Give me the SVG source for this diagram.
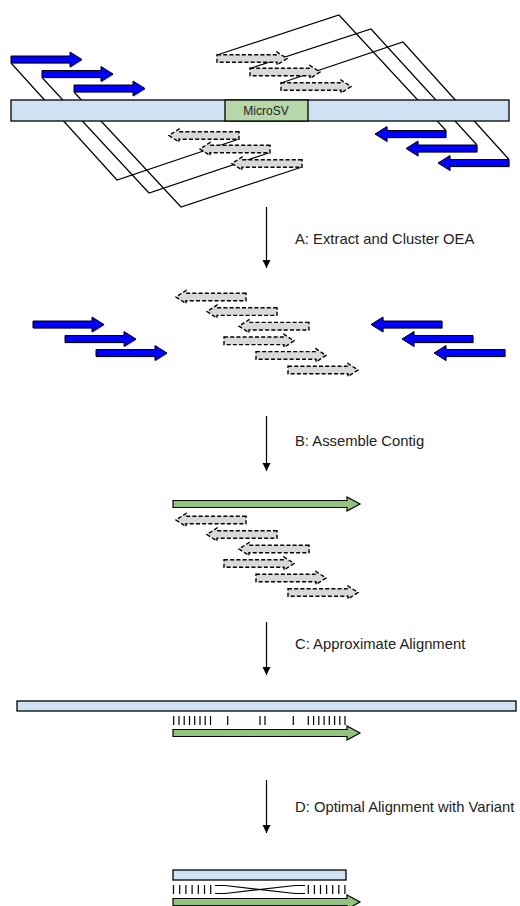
<svg xmlns="http://www.w3.org/2000/svg" xmlns:xlink="http://www.w3.org/1999/xlink" width="520" height="906" viewBox="0 0 520 906">
<style>
.bar{fill:#cfe2f3;stroke:#000;stroke-width:1.3}
.sv{fill:#b6d7a8;stroke:#000;stroke-width:1.3}
.blue{fill:#0000ff;stroke:#000;stroke-width:1}
.shadow{fill:#999;stroke:none;opacity:0.6}
.gray{fill:#d9d9d9;stroke:#000;stroke-width:1.4;stroke-dasharray:4 2.2}
.green{fill:#93c47d;stroke:#000;stroke-width:1.2}
.link{fill:none;stroke:#000;stroke-width:1.2}
.flow{fill:none;stroke:#000;stroke-width:1.2}
.tick{stroke:#000;stroke-width:1.2}
.lbl{font-family:"Liberation Sans",Arial,sans-serif;font-size:14.8px;fill:#222}
.svt{font-family:"Liberation Sans",Arial,sans-serif;font-size:12px;fill:#222}
</style>
<defs>
<path id="bR" d="M0,-3.5 H59 V-7.5 L71,0 L59,7.5 V3.5 H0 Z"/>
<path id="bL" d="M0,-3.5 H-59 V-7.5 L-71,0 L-59,7.5 V3.5 H0 Z"/>
<path id="gR" d="M0,-3.8 H60 V-6.5 L70,0 L60,6.5 V3.8 H0 Z"/>
<path id="gL" d="M0,-3.8 H-60 V-6.5 L-70,0 L-60,6.5 V3.8 H0 Z"/>
<path id="grn" d="M0,-3.5 H174 V-7 L187,0 L174,7 V3.5 H0 Z"/>
<marker id="ah" viewBox="0 0 8 10" refX="8" refY="5" markerWidth="8" markerHeight="10" markerUnits="userSpaceOnUse" orient="auto">
<path d="M0,1 L8,5 L0,9 Z" fill="#000"/>
</marker>
</defs>

<!-- connectors: read-pair links and step arrows -->
<g id="connectors">
<polyline class="link" points="11,63 117,180 239,139"/>
<polyline class="link" points="42,77.5 149,193 270,152.5"/>
<polyline class="link" points="74,92 181,207 302,167"/>
<polyline class="link" points="217,55 339,15 446,130.5"/>
<polyline class="link" points="250,68.5 371,29 477,145"/>
<polyline class="link" points="281,83 403,42 509,159.5"/>
<line class="flow" x1="266.5" y1="207" x2="266.5" y2="268" marker-end="url(#ah)"/>
<line class="flow" x1="266.5" y1="416" x2="266.5" y2="471" marker-end="url(#ah)"/>
<line class="flow" x1="266.5" y1="622" x2="266.5" y2="675" marker-end="url(#ah)"/>
<line class="flow" x1="266.5" y1="780" x2="266.5" y2="833" marker-end="url(#ah)"/>
</g>

<!-- Top: reference with MicroSV and OEA reads -->
<g id="reference-top">
<rect class="bar" x="11" y="100" width="498" height="21"/>
<rect class="sv" x="225" y="100" width="83" height="21"/>
<text class="svt" x="266" y="115" text-anchor="middle">MicroSV</text>
</g>
<g id="reads-top">
<use href="#bR" class="shadow" transform="translate(12,60.5)"/>
<use href="#bR" class="blue" transform="translate(11,59.5)"/>
<use href="#bR" class="shadow" transform="translate(43,75)"/>
<use href="#bR" class="blue" transform="translate(42,74)"/>
<use href="#bR" class="shadow" transform="translate(75,89.5)"/>
<use href="#bR" class="blue" transform="translate(74,88.5)"/>
<use href="#bL" class="shadow" transform="translate(447,135)"/>
<use href="#bL" class="blue" transform="translate(446,134)"/>
<use href="#bL" class="shadow" transform="translate(478,149.5)"/>
<use href="#bL" class="blue" transform="translate(477,148.5)"/>
<use href="#bL" class="shadow" transform="translate(510,164)"/>
<use href="#bL" class="blue" transform="translate(509,163)"/>
<use href="#gR" class="gray" transform="translate(217,58.5)"/>
<use href="#gR" class="gray" transform="translate(250,72)"/>
<use href="#gR" class="gray" transform="translate(281,86.5)"/>
<use href="#gL" class="gray" transform="translate(239,135.5)"/>
<use href="#gL" class="gray" transform="translate(270,149)"/>
<use href="#gL" class="gray" transform="translate(302,163.5)"/>
</g>

<g id="label-a"><text class="lbl" x="295" y="244">A: Extract and Cluster OEA</text></g>

<!-- Step A result -->
<g id="cluster">
<use href="#bR" class="shadow" transform="translate(34,325.5)"/>
<use href="#bR" class="blue" transform="translate(33,324.5)"/>
<use href="#bR" class="shadow" transform="translate(66,340)"/>
<use href="#bR" class="blue" transform="translate(65,339)"/>
<use href="#bR" class="shadow" transform="translate(97,354)"/>
<use href="#bR" class="blue" transform="translate(96,353)"/>
<use href="#bL" class="shadow" transform="translate(443,325.5)"/>
<use href="#bL" class="blue" transform="translate(442,324.5)"/>
<use href="#bL" class="shadow" transform="translate(474,340)"/>
<use href="#bL" class="blue" transform="translate(473,339)"/>
<use href="#bL" class="shadow" transform="translate(506,354)"/>
<use href="#bL" class="blue" transform="translate(505,353)"/>
<use href="#gL" class="gray" transform="translate(246,297)"/>
<use href="#gL" class="gray" transform="translate(277,311.6)"/>
<use href="#gL" class="gray" transform="translate(309,326.2)"/>
<use href="#gR" class="gray" transform="translate(224,340.8)"/>
<use href="#gR" class="gray" transform="translate(256,355.4)"/>
<use href="#gR" class="gray" transform="translate(288,370)"/>
</g>

<g id="label-b"><text class="lbl" x="295" y="446">B: Assemble Contig</text></g>

<!-- Step B result -->
<g id="contig">
<use href="#grn" class="green" transform="translate(173,504)"/>
<use href="#gL" class="gray" transform="translate(246,520)"/>
<use href="#gL" class="gray" transform="translate(277,534.5)"/>
<use href="#gL" class="gray" transform="translate(309,549)"/>
<use href="#gR" class="gray" transform="translate(224,563.5)"/>
<use href="#gR" class="gray" transform="translate(256,578)"/>
<use href="#gR" class="gray" transform="translate(288,592.5)"/>
</g>

<g id="label-c"><text class="lbl" x="295" y="649">C: Approximate Alignment</text></g>

<!-- Step C result -->
<g id="approx">
<rect class="bar" x="17" y="701" width="499" height="10"/>
<g class="tick">
<line x1="173.7" y1="716" x2="173.7" y2="725"/>
<line x1="179" y1="716" x2="179" y2="725"/>
<line x1="184.2" y1="716" x2="184.2" y2="725"/>
<line x1="189.5" y1="716" x2="189.5" y2="725"/>
<line x1="194.7" y1="716" x2="194.7" y2="725"/>
<line x1="200" y1="716" x2="200" y2="725"/>
<line x1="205.2" y1="716" x2="205.2" y2="725"/>
<line x1="210.5" y1="716" x2="210.5" y2="725"/>
<line x1="227.7" y1="716" x2="227.7" y2="725"/>
<line x1="260" y1="716" x2="260" y2="725"/>
<line x1="265" y1="716" x2="265" y2="725"/>
<line x1="293.3" y1="716" x2="293.3" y2="725"/>
<line x1="308.3" y1="716" x2="308.3" y2="725"/>
<line x1="313.6" y1="716" x2="313.6" y2="725"/>
<line x1="318.8" y1="716" x2="318.8" y2="725"/>
<line x1="324.1" y1="716" x2="324.1" y2="725"/>
<line x1="329.3" y1="716" x2="329.3" y2="725"/>
<line x1="334.6" y1="716" x2="334.6" y2="725"/>
<line x1="339.8" y1="716" x2="339.8" y2="725"/>
<line x1="345" y1="716" x2="345" y2="725"/>
</g>
<use href="#grn" class="green" transform="translate(173,733)"/>
</g>

<g id="label-d"><text class="lbl" x="295" y="812">D: Optimal Alignment with Variant</text></g>

<!-- Step D result -->
<g id="optimal">
<rect class="bar" x="173" y="870" width="173" height="10"/>
<g class="tick">
<line x1="173.5" y1="885" x2="173.5" y2="894"/>
<line x1="179.7" y1="885" x2="179.7" y2="894"/>
<line x1="185.9" y1="885" x2="185.9" y2="894"/>
<line x1="192.1" y1="885" x2="192.1" y2="894"/>
<line x1="198.3" y1="885" x2="198.3" y2="894"/>
<line x1="204.5" y1="885" x2="204.5" y2="894"/>
<line x1="210.7" y1="885" x2="210.7" y2="894"/>
<line x1="308.3" y1="885" x2="308.3" y2="894"/>
<line x1="314.4" y1="885" x2="314.4" y2="894"/>
<line x1="320.5" y1="885" x2="320.5" y2="894"/>
<line x1="326.6" y1="885" x2="326.6" y2="894"/>
<line x1="332.7" y1="885" x2="332.7" y2="894"/>
<line x1="338.8" y1="885" x2="338.8" y2="894"/>
<line x1="344.9" y1="885" x2="344.9" y2="894"/>
</g>
<polyline class="link" points="215,885.5 225,885.5 295,893.5 305,893.5"/>
<polyline class="link" points="215,893.5 225,893.5 295,885.5 305,885.5"/>
<use href="#grn" class="green" transform="translate(173,902)"/>
</g>
</svg>
